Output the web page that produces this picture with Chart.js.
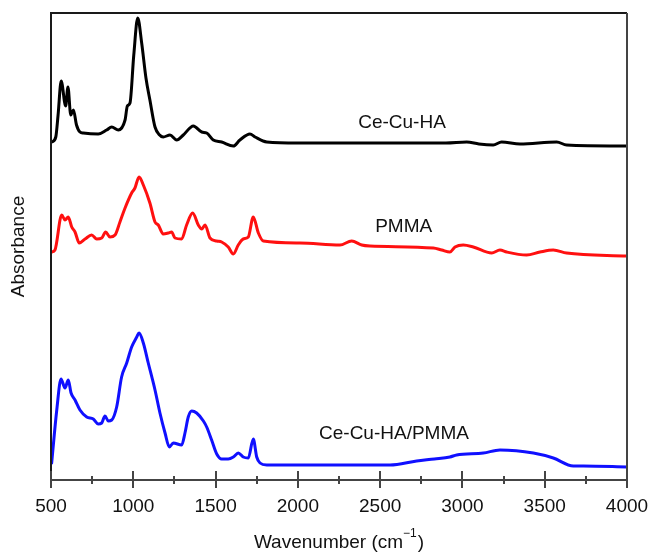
<!DOCTYPE html>
<html>
<head>
<meta charset="utf-8">
<script src="https://cdn.jsdelivr.net/npm/chart.js@4.4.1/dist/chart.umd.min.js"></script>
<style>
  html, body { margin: 0; padding: 0; background: #ffffff; }
  #c { display: block; }
</style>
</head>
<body>
<canvas id="c" width="652" height="552"></canvas>
<script>
// ---- Data (wavenumber in cm^-1, absorbance in arbitrary stacked units) ----
const haWavenumber = [506, 529, 543, 562, 589, 603, 620, 636, 655, 676, 696, 787, 838, 869, 909, 950, 964, 980, 1003, 1027, 1051, 1077, 1101, 1132, 1160, 1182, 1223, 1264, 1304, 1365, 1416, 1446, 1486, 1537, 1608, 1648, 1709, 1740, 1811, 2000, 2500, 2900, 3026, 3100, 3187, 3238, 3350, 3573, 3633, 4000];
const haAbsorbance = [338, 343, 365, 399, 374, 393, 365, 370, 355, 348, 347, 346, 350, 353, 350, 360, 374, 377, 425, 462, 437, 402, 380, 353, 345, 343, 345, 340, 345, 354, 348, 347, 340, 338, 334, 340, 346, 343, 338, 337, 337, 337, 338, 336, 335, 338, 336, 338, 335, 334];

const pmmaWavenumber = [504, 524, 565, 585, 605, 626, 646, 672, 707, 747, 778, 808, 832, 858, 889, 919, 950, 990, 1010, 1035, 1061, 1101, 1132, 1152, 1182, 1213, 1233, 1253, 1294, 1324, 1361, 1395, 1416, 1436, 1466, 1507, 1537, 1577, 1608, 1638, 1668, 1699, 1729, 1760, 1790, 2013, 2256, 2327, 2388, 2438, 2823, 2874, 2924, 2955, 3005, 3066, 3178, 3228, 3269, 3390, 3471, 3552, 3633, 4000];
const pmmaAbsorbance = [228, 230, 265, 260, 263, 253, 248, 237, 241, 245, 241, 242, 248, 243, 245, 258, 272, 287, 292, 303, 295, 277, 258, 255, 246, 247, 248, 242, 241, 255, 267, 255, 251, 255, 242, 239, 238, 233, 226, 235, 241, 243, 263, 247, 239, 237, 235, 239, 235, 234, 232, 230, 228, 233, 235, 233, 227, 230, 228, 225, 228, 230, 227, 224];

const compWavenumber = [504, 535, 561, 585, 605, 622, 646, 676, 717, 757, 787, 808, 828, 848, 869, 899, 929, 960, 990, 1021, 1035, 1061, 1091, 1132, 1162, 1193, 1219, 1243, 1294, 1314, 1334, 1355, 1385, 1426, 1446, 1476, 1507, 1537, 1577, 1608, 1638, 1668, 1699, 1729, 1750, 1770, 1811, 2195, 2560, 2722, 2830, 2924, 2965, 3127, 3228, 3431, 3552, 3674, 3735, 4000];
const compAbsorbance = [17, 70, 101, 92, 100, 87, 80, 70, 63, 61, 56, 57, 64, 59, 60, 73, 103, 117, 133, 143, 147, 137, 117, 90, 67, 47, 33, 37, 35, 47, 63, 69, 67, 59, 53, 40, 26, 21, 21, 23, 27, 23, 22, 41, 23, 17, 15, 15, 15, 19, 21, 23, 25, 27, 30, 27, 22, 14, 14, 13];

const seriesNames = ['Ce-Cu-HA', 'PMMA', 'Ce-Cu-HA/PMMA'];
const xTickLabels = [500, 1000, 1500, 2000, 2500, 3000, 3500, 4000];

// label anchor points (wavenumber, absorbance units)
const labelAnchorX = [2633, 2643, 2584];
const labelAnchorY = [357, 253, 46];

function pts(xs, ys) { return xs.map((v, i) => ({ x: v, y: ys[i] })); }

const FONT = "'Liberation Sans', Arial, Helvetica, sans-serif";

const decorPlugin = {
  id: 'decor',
  afterDatasetsDraw(chart) {
    const { ctx, chartArea: a, scales: { x, y } } = chart;
    ctx.save();
    // frame
    ctx.lineWidth = 2;
    ctx.strokeStyle = '#1a1a1a';
    ctx.beginPath();
    ctx.moveTo(a.left, a.bottom);
    ctx.lineTo(a.left, a.top);
    ctx.lineTo(a.right, a.top);
    ctx.stroke();
    ctx.strokeStyle = '#444';
    ctx.beginPath();
    ctx.moveTo(a.right, a.top);
    ctx.lineTo(a.right, a.bottom);
    ctx.lineTo(a.left, a.bottom);
    ctx.stroke();
    // tick marks (crossing the bottom axis)
    ctx.strokeStyle = '#444';
    ctx.lineWidth = 2;
    for (let i = 0; i < xTickLabels.length; i++) {
      const px = Math.round(x.getPixelForValue(xTickLabels[i]));
      ctx.beginPath();
      ctx.moveTo(px, a.bottom - 9);
      ctx.lineTo(px, a.bottom + 8);
      ctx.stroke();
      if (i < xTickLabels.length - 1) {
        const mx = Math.round(x.getPixelForValue((xTickLabels[i] + xTickLabels[i + 1]) / 2));
        ctx.beginPath();
        ctx.moveTo(mx, a.bottom - 4);
        ctx.lineTo(mx, a.bottom + 4);
        ctx.stroke();
      }
    }
    // series labels
    ctx.fillStyle = '#111';
    ctx.font = '19px ' + FONT;
    ctx.textAlign = 'center';
    ctx.textBaseline = 'middle';
    for (let i = 0; i < seriesNames.length; i++) {
      ctx.fillText(seriesNames[i], x.getPixelForValue(labelAnchorX[i]), y.getPixelForValue(labelAnchorY[i]));
    }
    // x axis title with superscript
    const cx = (a.left + a.right) / 2;
    const ty = 543;
    const main = 'Wavenumber (cm';
    const sup = '\u22121';
    const close = ')';
    ctx.font = '19px ' + FONT;
    const wMain = ctx.measureText(main).width;
    const wClose = ctx.measureText(close).width;
    ctx.font = '12px ' + FONT;
    const wSup = ctx.measureText(sup).width;
    const total = wMain + wSup + 1 + wClose;
    let sx = cx - total / 2;
    ctx.textAlign = 'left';
    ctx.font = '19px ' + FONT;
    ctx.fillText(main, sx, ty);
    sx += wMain;
    ctx.font = '12px ' + FONT;
    ctx.fillText(sup, sx, ty - 9);
    sx += wSup + 1;
    ctx.font = '19px ' + FONT;
    ctx.fillText(close, sx, ty);
    // y axis title
    ctx.translate(19, (a.top + a.bottom) / 2);
    ctx.rotate(-Math.PI / 2);
    ctx.textAlign = 'center';
    ctx.fillText('Absorbance', 0, 0);
    ctx.restore();
  }
};

const colors = ['#000000', '#ff1010', '#1010ff'];
const wnSets = [haWavenumber, pmmaWavenumber, compWavenumber];
const absSets = [haAbsorbance, pmmaAbsorbance, compAbsorbance];

new Chart(document.getElementById('c'), {
  type: 'line',
  data: {
    datasets: seriesNames.map((n, i) => ({
      label: n,
      data: pts(wnSets[i], absSets[i]),
      borderColor: colors[i],
      borderWidth: 3,
      pointRadius: 0,
      fill: false,
      cubicInterpolationMode: 'monotone',
      borderJoinStyle: 'round',
      borderCapStyle: 'round'
    }))
  },
  options: {
    responsive: false,
    animation: false,
    devicePixelRatio: 1,
    layout: { padding: { left: 51, top: 13, right: 25, bottom: 0 } },
    plugins: { legend: { display: false }, tooltip: { enabled: false } },
    scales: {
      x: {
        type: 'linear',
        min: 500,
        max: 4000,
        grid: { display: false, drawTicks: false },
        border: { display: false },
        ticks: {
          stepSize: 500,
          padding: 15,
          color: '#111',
          font: { size: 19, family: FONT },
          maxRotation: 0,
          callback: (v) => (xTickLabels.includes(v) ? String(v) : '')
        },
        afterFit(scale) {
          scale.height = 72;
          scale.paddingLeft = 0;
          scale.paddingRight = 0;
        }
      },
      y: {
        display: false,
        min: 0,
        max: 467
      }
    }
  },
  plugins: [decorPlugin]
});
</script>
</body>
</html>
